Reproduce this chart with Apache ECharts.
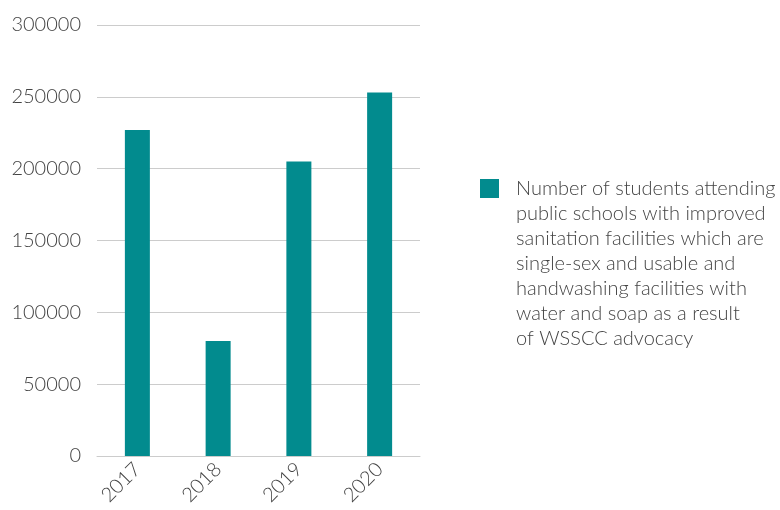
<!DOCTYPE html>
<html><head><meta charset="utf-8">
<script src="https://cdn.jsdelivr.net/npm/echarts@6/dist/echarts.min.js"></script>
<style>html,body{margin:0;padding:0;background:#fff}#c{width:780px;height:510px}</style>
</head><body><div id="c"></div>
<script>
const categories = ['2017', '2018', '2019', '2020'];
const values = [227000, 80000, 205000, 253000];
const seriesName = 'Number of students attending\npublic schools with improved\nsanitation facilities which are\nsingle-sex and usable and\nhandwashing facilities with\nwater and soap as a result\nof WSSCC advocacy';
const yTicks = { min: 0, max: 300000, interval: 50000 };

const chart = echarts.init(document.getElementById('c'), null, { renderer: 'canvas' });
const font = 'Lato';
chart.setOption({
  animation: false,
  grid: { left: 97, right: 360, top: 25, bottom: 54, containLabel: false },
  legend: {
    left: 480, top: 176, orient: 'vertical', padding: 0,
    itemWidth: 31, itemHeight: 175,
    icon: 'path://M0,0M31,175M0,3L19,3L19,22L0,22Z',
    textStyle: { fontFamily: font, fontWeight: 300, fontSize: 20, lineHeight: 25, color: '#444' },
    data: [seriesName]
  },
  xAxis: {
    type: 'category', data: categories,
    axisLine: { show: true, lineStyle: { color: '#ccc', width: 1 } },
    axisTick: { show: false },
    axisLabel: { rotate: 45, margin: 10, fontFamily: font, fontWeight: 300, fontSize: 20, color: '#444' }
  },
  yAxis: {
    type: 'value', min: yTicks.min, max: yTicks.max, interval: yTicks.interval,
    axisLine: { show: false }, axisTick: { show: false },
    splitLine: { lineStyle: { color: '#ccc', width: 1 } },
    axisLabel: { margin: 16, fontFamily: font, fontWeight: 300, fontSize: 20, color: '#444', formatter: v => String(v) }
  },
  series: [{
    name: seriesName, type: 'bar', data: values,
    barWidth: 25, itemStyle: { color: '#028b8e' }
  }]
});
</script></body></html>
